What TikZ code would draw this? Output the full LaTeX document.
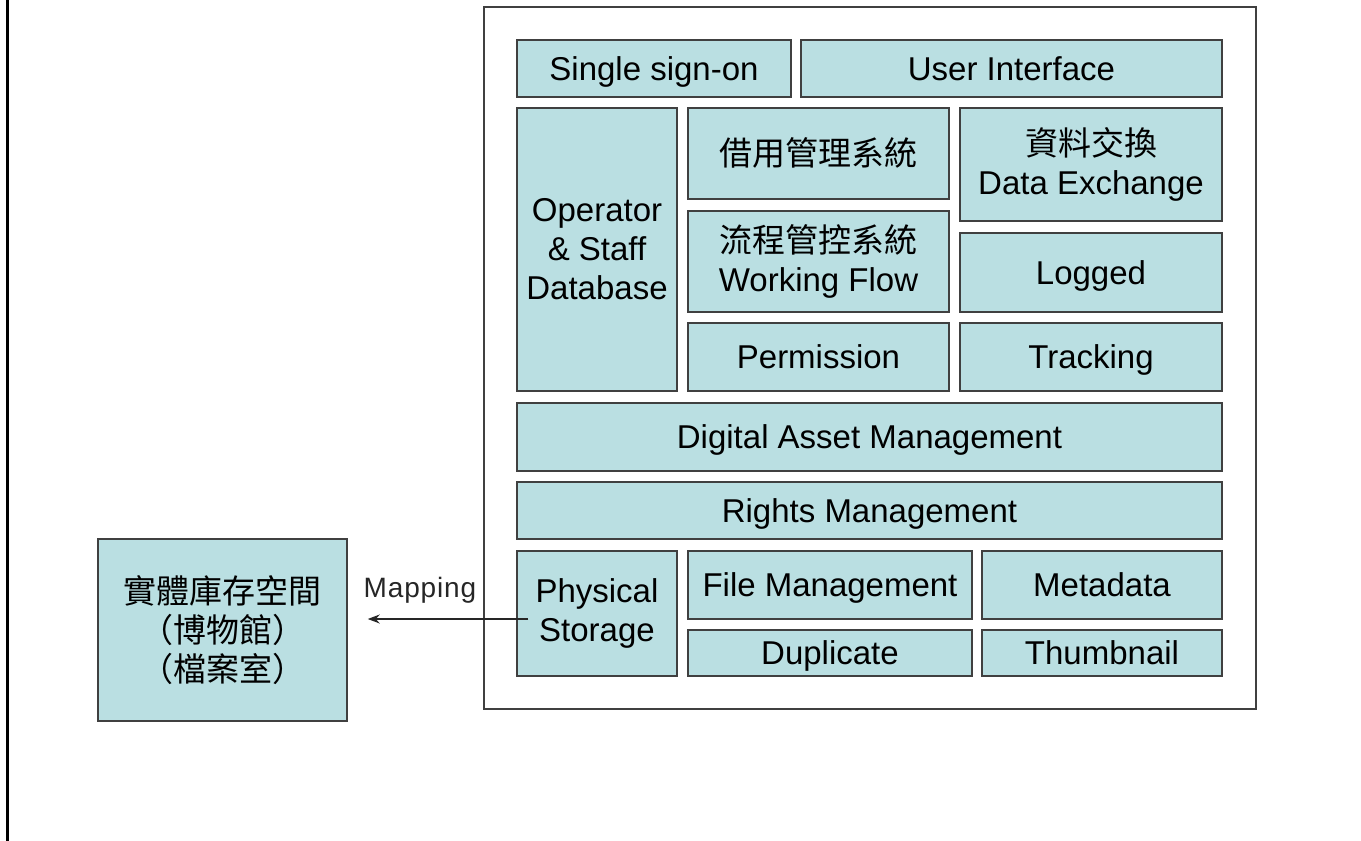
\documentclass[tikz,border=0pt]{standalone}
\usepackage{fontspec}
\setmainfont{Liberation Sans}
\newfontfamily\cjk{Noto Sans CJK TC}
\usepackage{xcolor}
\definecolor{boxfill}{RGB}{186,223,226}
\usetikzlibrary{arrows.meta}

\begin{document}
\begin{tikzpicture}[x=1pt,y=-1pt,
        line width=1.5pt,>={Stealth[length=12pt,width=9pt]},
        layer/.style = {draw=black!75,fill=boxfill,inner sep=0pt,align=center,
                        font=\fontsize{33}{39}\selectfont},
        oneline/.style = {layer,text height=23.7pt,text depth=0pt},
        ]
        \useasboundingbox (0,0) rectangle (1361,841);

        %Page edge
        \draw[line width=3pt] (7,0) -- (7,841);

        %Frame
        \draw[black!75] (484,7) rectangle (1256,709);

        %Top row
        \node[oneline,minimum width=274,minimum height=57] (sso) at (654,68.5) {Single sign-on};
        \node[oneline,minimum width=421,minimum height=57] (ui) at (1011.5,68.5) {User Interface};

        %Middle block
        \node[layer,minimum width=160,minimum height=283] (ops) at (597,249.5) {Operator\\\& Staff\\Database};
        \node[oneline,minimum width=261,minimum height=91] (loan) at (818.5,153.5) {\cjk 借用管理系統};
        \node[layer,minimum width=261,minimum height=101] (flow) at (818.5,261.5) {{\cjk 流程管控系統}\\Working Flow};
        \node[oneline,minimum width=261,minimum height=68] (perm) at (818.5,357) {Permission};
        \node[layer,minimum width=262,minimum height=113] (dex) at (1091,164.5) {{\cjk 資料交換}\\Data Exchange};
        \node[oneline,minimum width=262,minimum height=79] (logged) at (1091,272.5) {Logged};
        \node[oneline,minimum width=262,minimum height=68] (track) at (1091,357) {Tracking};

        %Management layers
        \node[oneline,minimum width=705,minimum height=68] (dam) at (869.5,437) {Digital Asset Management};
        \node[oneline,minimum width=705,minimum height=57] (rights) at (869.5,510.5) {Rights Management};

        %Storage block
        \node[layer,minimum width=160,minimum height=125] (phys) at (597,613.5) {Physical\\Storage};
        \node[oneline,minimum width=284,minimum height=68] (files) at (830,585) {File Management};
        \node[oneline,minimum width=240,minimum height=68] (meta) at (1102,585) {Metadata};
        \node[oneline,minimum width=284,minimum height=46] (dup) at (830,653) {Duplicate};
        \node[oneline,minimum width=240,minimum height=46] (thumb) at (1102,653) {Thumbnail};

        %Physical store
        \node[layer,minimum width=249,minimum height=182] (store) at (222.5,630)
            {{\cjk 實體庫存空間}\\{\cjk （博物館）}\\{\cjk （檔案室）}};

        %Mapping
        \coordinate (mapfrom) at ([shift={(12,5.5)}]phys.west);
        \draw[->,black!85,line width=1.3pt,shorten >=20pt] (mapfrom) --
            node[pos=.6,above=15pt,inner sep=0pt,font=\fontsize{28}{32}\selectfont\addfontfeatures{LetterSpace=3}] (maplabel) {Mapping}
            (mapfrom -| store.east);

\end{tikzpicture}
\end{document}
